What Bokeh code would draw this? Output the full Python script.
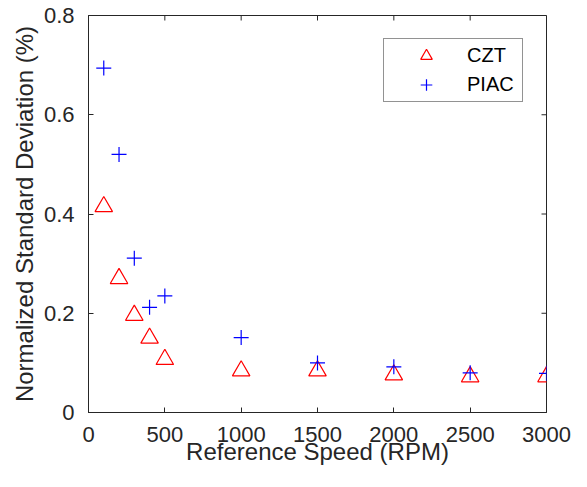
import math
from bokeh.plotting import figure
from bokeh.models import Range1d, FixedTicker, Legend, LegendItem
from bokeh.embed import file_html
from bokeh.resources import INLINE

# ---- data ----
speed = [100, 200, 300, 400, 500, 1000, 1500, 2000, 2500, 3000]
czt = [0.415, 0.270, 0.196, 0.150, 0.107, 0.084, 0.084, 0.076, 0.072, 0.072]
piac = [0.694, 0.520, 0.311, 0.212, 0.235, 0.151, 0.100, 0.092, 0.080, 0.079]

x_lim = [0, 3000]
y_lim = [0, 0.8]
x_ticks = [0, 500, 1000, 1500, 2000, 2500, 3000]
x_tick_labels = ["0", "500", "1000", "1500", "2000", "2500", "3000"]
y_ticks = [0, 0.2, 0.4, 0.6, 0.8]
y_tick_labels = ["0", "0.2", "0.4", "0.6", "0.8"]

AX = "#262626"
FONT = "Liberation Sans"

p = figure(width=571, height=471, output_backend="svg", toolbar_location=None,
           x_range=Range1d(*x_lim), y_range=Range1d(*y_lim),
           min_border_left=88, min_border_right=25, min_border_top=15, min_border_bottom=59,
           x_axis_label="Reference Speed (RPM)",
           y_axis_label="Normalized Standard Deviation (%)")
p.xgrid.visible = False
p.ygrid.visible = False
p.outline_line_color = AX
p.outline_line_width = 1
p.background_fill_color = "white"
p.border_fill_color = "white"

def style_axis(ax, ticks, labels):
    ax.ticker = FixedTicker(ticks=ticks)
    ax.major_label_overrides = {t: l for t, l in zip(ticks, labels)}
    ax.major_tick_in = 5
    ax.major_tick_out = 0
    ax.minor_tick_in = 0
    ax.minor_tick_out = 0
    ax.axis_line_color = AX
    ax.major_tick_line_color = AX
    ax.major_label_text_font = FONT
    ax.major_label_text_color = AX
    ax.major_label_text_font_size = "22px"
    ax.major_label_standoff = 14
    ax.axis_label_text_font = FONT
    ax.axis_label_text_font_size = "24px"
    ax.axis_label_text_font_style = "normal"
    ax.axis_label_text_color = AX

style_axis(p.xaxis[0], x_ticks, x_tick_labels)
p.xaxis[0].axis_label_standoff = -7
style_axis(p.yaxis[0], y_ticks, y_tick_labels)
p.yaxis[0].axis_label_standoff = 3

# mirrored inward ticks on the top and right edges of the box
p.ray(x=x_ticks, y=[y_lim[1]] * len(x_ticks), length=5, length_units="screen",
      angle=-math.pi / 2, line_color=AX, line_width=1)
p.ray(x=[x_lim[1]] * len(y_ticks), y=y_ticks, length=5, length_units="screen",
      angle=math.pi, line_color=AX, line_width=1)

r1 = p.scatter(speed, czt, marker="triangle", size=17.5, fill_color=None,
               line_color="#ff0000", line_width=1.2)
r2 = p.scatter(speed, piac, marker="cross", size=15, line_color="#0000ff", line_width=1.2)

legend = Legend(items=[LegendItem(label="CZT", renderers=[r1]),
                       LegendItem(label="PIAC", renderers=[r2])],
                location="top_right", margin=23, padding=2, spacing=0,
                glyph_height=29, glyph_width=80, label_standoff=1, label_width=53,
                label_height=29,
                label_text_font=FONT, label_text_font_size="20px", label_text_color="black",
                border_line_color=AX, border_line_width=1,
                background_fill_color="white", background_fill_alpha=1)
p.add_layout(legend, "center")

open("out.html", "w").write(file_html(p, INLINE))
